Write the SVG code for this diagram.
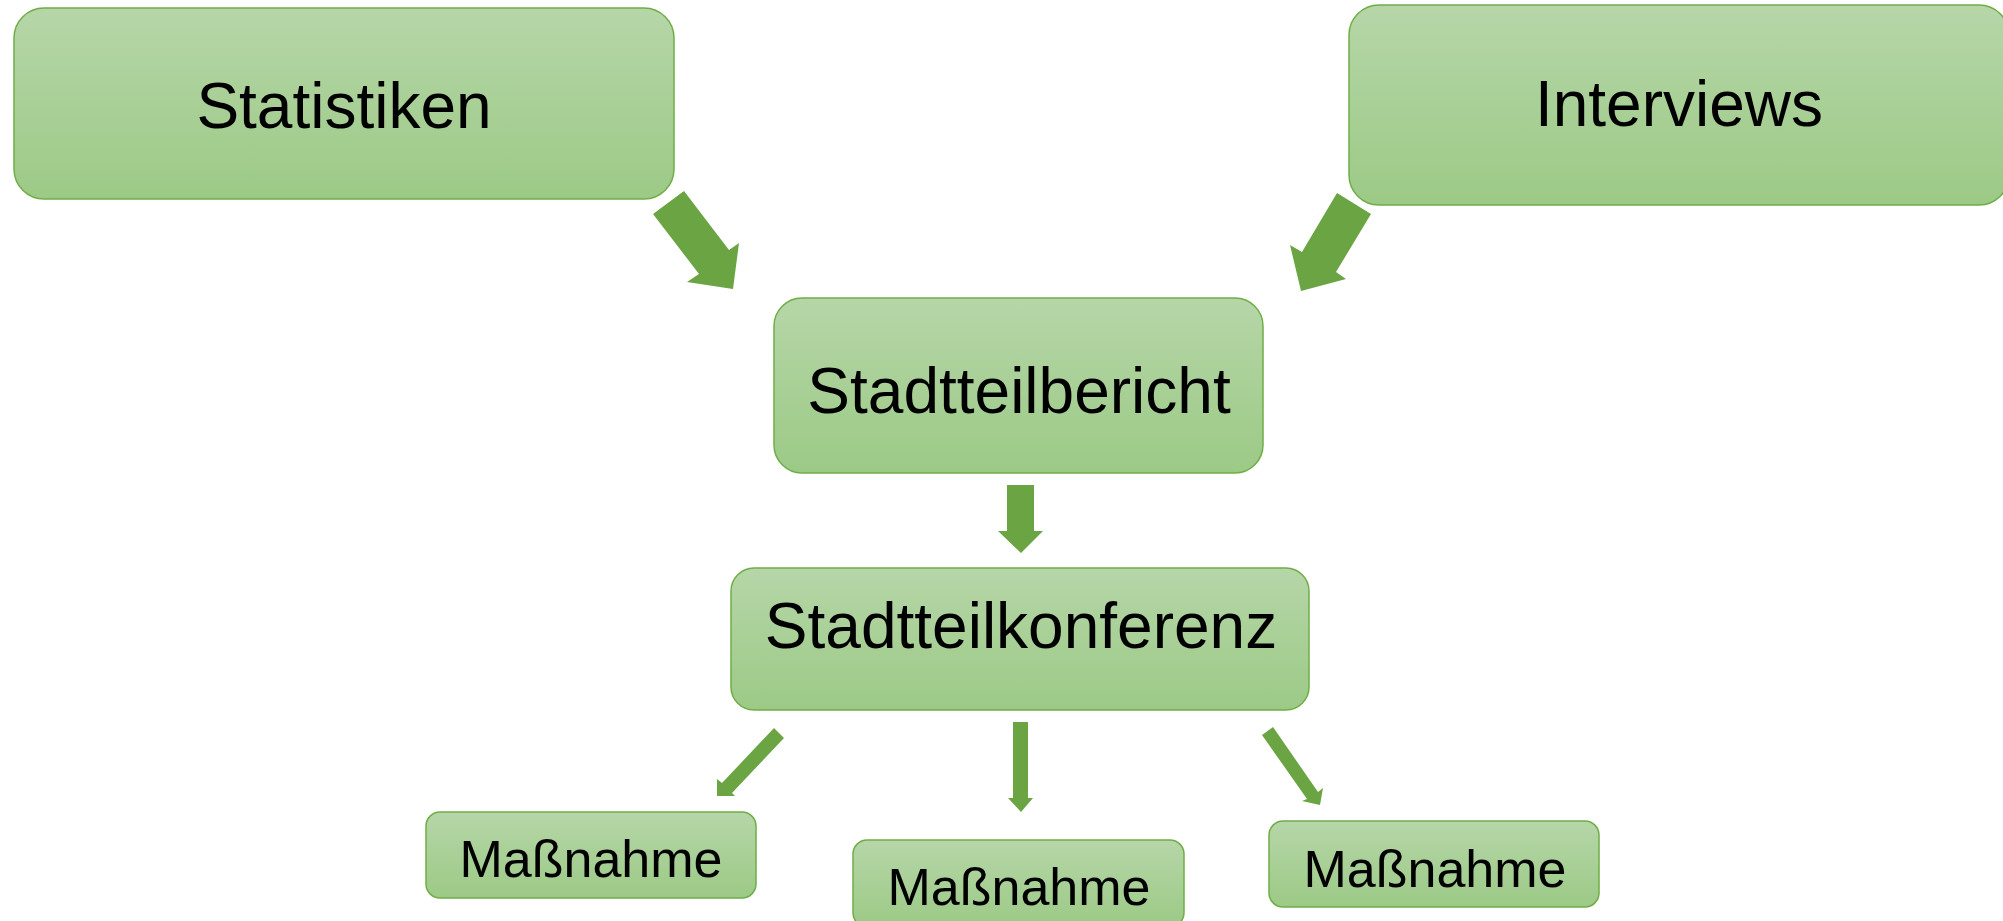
<svg xmlns="http://www.w3.org/2000/svg" width="2003" height="921" viewBox="0 0 2003 921">
  <defs>
    <linearGradient id="g" x1="0" y1="0" x2="0" y2="1">
      <stop offset="0" stop-color="#b6d6a8"/>
      <stop offset="1" stop-color="#9cca86"/>
    </linearGradient>
    <style>
      .box { fill: url(#g); stroke: #70ad47; stroke-width: 1.5; }
      .lbl { font-family: "Liberation Sans", Arial, sans-serif; fill: #000; text-anchor: middle; }
      .big { font-size: 64px; }
      .small { font-size: 52px; }
      .arr { fill: #6aa443; stroke: none; }
    </style>
  </defs>
  <rect width="2003" height="921" fill="#ffffff"/>

  <g id="connectors">
    <polygon class="arr" points="653,214 684,191 729,250 739,243 733,289 687,282 699,274"/>
    <polygon class="arr" points="1337,193 1371,214 1336,272 1346,279 1301,291 1290,245 1302,252"/>
    <polygon class="arr" points="1007,485 1034,485 1034,531 1043,531 1021,553 998,531 1007,531"/>
    <polygon class="arr" points="774,728 784,738 732,793 735,796 717,796 717,779 722,783"/>
    <polygon class="arr" points="1013,722 1028,722 1028,798 1033,798 1021,812 1008,798 1013,798"/>
    <polygon class="arr" points="1262,735 1273,727 1318,792 1323,788 1320,805 1302,801 1307,799"/>
  </g>

  <g id="statistiken">
    <rect class="box" x="14" y="8" width="660" height="191" rx="30" ry="30"/>
    <text class="lbl big" x="344" y="128">Statistiken</text>
  </g>

  <g id="interviews">
    <rect class="box" x="1349" y="5" width="660" height="200" rx="30" ry="30"/>
    <text class="lbl big" x="1679" y="126">Interviews</text>
  </g>

  <g id="stadtteilbericht">
    <rect class="box" x="774" y="298" width="489" height="175" rx="28" ry="28"/>
    <text class="lbl big" x="1019" y="413">Stadtteilbericht</text>
  </g>

  <g id="stadtteilkonferenz">
    <rect class="box" x="731" y="568" width="578" height="142" rx="23" ry="23"/>
    <text class="lbl big" x="1021" y="648">Stadtteilkonferenz</text>
  </g>

  <g id="massnahme1">
    <rect class="box" x="426" y="812" width="330" height="86" rx="14" ry="14"/>
    <text class="lbl small" x="591" y="877">Maßnahme</text>
  </g>

  <g id="massnahme2">
    <rect class="box" x="853" y="840" width="331" height="87" rx="14" ry="14"/>
    <text class="lbl small" x="1019" y="905">Maßnahme</text>
  </g>

  <g id="massnahme3">
    <rect class="box" x="1269" y="821" width="330" height="86" rx="14" ry="14"/>
    <text class="lbl small" x="1435" y="887">Maßnahme</text>
  </g>
</svg>
